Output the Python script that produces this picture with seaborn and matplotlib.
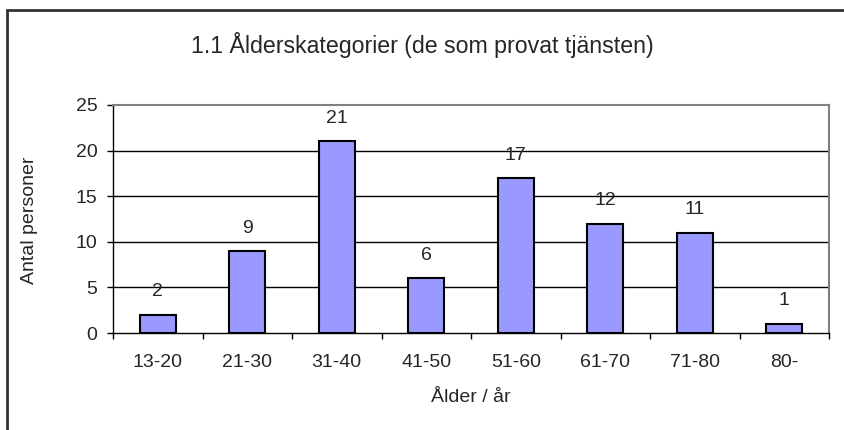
import numpy as np
import pandas as pd
import matplotlib
matplotlib.use("Agg")
import matplotlib.pyplot as plt
from matplotlib.lines import Line2D
import seaborn as sns

# data
age_groups = ["13-20", "21-30", "31-40", "41-50", "51-60", "61-70", "71-80", "80-"]
counts = [2, 9, 21, 6, 17, 12, 11, 1]
y_ticks = [0, 5, 10, 15, 20, 25]

title = "1.1 Ålderskategorier (de som provat tjänsten)"
x_label = "Ålder / år"
y_label = "Antal personer"


def main():
    sns.set_style("white")
    plt.rcParams["font.family"] = ["Liberation Sans", "DejaVu Sans"]

    df = pd.DataFrame({"age": age_groups, "count": counts})

    fig = plt.figure(figsize=(8.44, 4.30), dpi=100)
    ax = fig.add_axes([113 / 844, 1 - 333 / 430, (829 - 113) / 844, (333 - 105) / 430])

    sns.barplot(data=df, x="age", y="count", color="#9999FF", edgecolor="black",
                linewidth=1.5, width=0.4, saturation=1, ax=ax, zorder=3)

    ax.set_xlim(-0.5, len(age_groups) - 0.5)
    ax.set_ylim(0, 25)
    ax.set_yticks(y_ticks)
    ax.set_yticklabels([str(t) for t in y_ticks], fontsize=14)

    # gridlines at the major y ticks
    for t in y_ticks[1:-1]:
        ax.axhline(t, color="black", linewidth=1, zorder=1)

    # category labels at centers, tick marks at boundaries
    ax.set_xticks(np.arange(len(age_groups)))
    ax.set_xticklabels(age_groups, fontsize=14)
    ax.set_xticks(np.arange(len(age_groups) + 1) - 0.5, minor=True)
    ax.tick_params(axis="x", which="major", length=0, pad=15)
    ax.tick_params(axis="x", which="minor", length=4, width=1, color="black", direction="out",
                   bottom=True)
    ax.tick_params(axis="y", length=4.3, width=1, color="black", direction="out", left=True, pad=7)

    ax.set_xlabel("")
    ax.set_ylabel("")

    for side in ["left", "bottom"]:
        ax.spines[side].set_color("black")
        ax.spines[side].set_linewidth(1)
    for side in ["top", "right"]:
        ax.spines[side].set_color("#808080")
        ax.spines[side].set_linewidth(1.5)

    # value labels above bars
    for i, v in enumerate(counts):
        ax.annotate(str(v), (i, v), xytext=(0, 16.5), textcoords="offset points",
                    ha="center", va="center", fontsize=14, zorder=4)

    fig.text(0.5, 1 - 45 / 430, title, ha="center", va="center", fontsize=16.7)
    fig.text((113 + 829) / 2 / 844, 1 - 397 / 430, x_label, ha="center", va="center", fontsize=14)
    fig.text(30 / 844, 1 - 220 / 430, y_label, ha="center", va="center", rotation=90, fontsize=14)

    # outer chart border (top and left edges visible)
    fig.add_artist(Line2D([7 / 844, 1.0], [1 - 10 / 430, 1 - 10 / 430], transform=fig.transFigure,
                          color="#333333", linewidth=2))
    fig.add_artist(Line2D([7 / 844, 7 / 844], [0.0, 1 - 10 / 430], transform=fig.transFigure,
                          color="#333333", linewidth=2))

    fig.savefig("out.png", dpi=100)
    plt.close(fig)


if __name__ == "__main__":
    main()
